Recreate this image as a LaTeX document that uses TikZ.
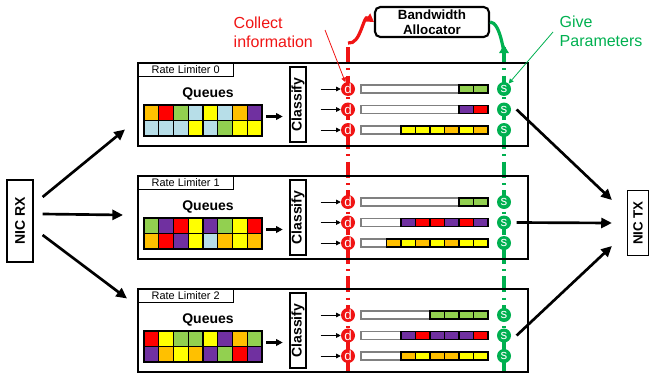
\documentclass[tikz,border=0pt]{standalone}
\usepackage{fontspec}
\setmainfont{Liberation Sans}
\usepackage{graphicx}
\usetikzlibrary{arrows.meta,calc}

\definecolor{qor}{RGB}{255,192,0}
\definecolor{qrd}{RGB}{255,0,0}
\definecolor{qgn}{RGB}{146,208,80}
\definecolor{qbl}{RGB}{183,222,232}
\definecolor{qye}{RGB}{255,255,0}
\definecolor{qpu}{RGB}{112,48,160}
\definecolor{dred}{RGB}{240,20,20}
\definecolor{sgreen}{RGB}{0,176,80}

\tikzset{
  box/.style={draw, line width=0.9pt, inner sep=0pt},
  dnode/.style={circle, fill=dred, text=white, minimum size=10.5pt, inner sep=0pt, font=\fontsize{10}{10}\selectfont},
  snode/.style={dnode, fill=sgreen},
  bigarrow/.style={line width=2pt, -{Triangle[length=8pt,width=7.5pt]}},
  midarrow/.style={line width=1.6pt, -{Triangle[length=5pt,width=5pt]}},
  smallarrow/.style={line width=0.6pt, -{Triangle[length=3.5pt,width=3.5pt]}},
  cell/.style={draw=black, line width=1pt},
  ddash/.style={line width=3pt, dash pattern=on 12pt off 4pt on 1.5pt off 4pt},
}

\begin{document}
\begin{tikzpicture}[x=0.75pt,y=-0.75pt]
  \useasboundingbox (0,0) rectangle (650,375);

  % collector lines behind everything
  \draw[ddash, dred] (348,47) -- (348,372);
  \draw[ddash, sgreen] (504,47) -- (504,372);

  % allocator and labels
  \node[box, rounded corners=4pt, line width=1.6pt, minimum width=85.5pt, minimum height=22.5pt,
        align=center, font=\bfseries\fontsize{10}{11.25}\selectfont] (alloc) at (432,22) {Bandwidth\\Allocator};
  \node[anchor=west, align=left, text=dred, font=\fontsize{12}{14.25}\selectfont] (collect) at (229,32) {Collect\\information};
  \node[anchor=west, align=left, text=sgreen, font=\fontsize{12}{14.25}\selectfont] (give) at (555,31) {Give\\Parameters};

  \coordinate (dtop) at (348,43);
  \coordinate (stop) at (504,45);
  \draw[dred, line width=2.4pt, -{Triangle[length=6pt,width=7pt]}] (dtop) to[out=-10,in=145] (alloc.west);
  \draw[sgreen, line width=2.4pt, -{Triangle[length=6pt,width=7pt]}] (alloc.east) to[out=0,in=-90] (stop);

  % NICs
  \node[box, minimum width=19.5pt, minimum height=61.5pt, font=\bfseries\fontsize{10.5}{10.5}\selectfont] (nicrx) at (20,221) {\rotatebox{90}{NIC RX}};
  \node[box, minimum width=15.75pt, minimum height=48.75pt, font=\bfseries\fontsize{10}{10}\selectfont] (nictx) at (638,223) {\rotatebox{90}{NIC TX}};

  % rate limiters
  \foreach \k/\top/\qa/\qb in {
      0/62/{qor,qrd,qgn,qbl,qye,qbl,qor,qpu}/{qbl,qbl,qbl,qye,qbl,qgn,qye,qye},
      1/175/{qgn,qpu,qrd,qye,qpu,qgn,qye,qrd}/{qor,qrd,qpu,qye,qbl,qor,qye,qor},
      2/288/{qrd,qye,qgn,qgn,qye,qpu,qor,qgn}/{qpu,qor,qye,qor,qpu,qgn,qrd,qpu}}{
    \node[box, line width=1.5pt, anchor=north west, minimum width=292.5pt, minimum height=62.25pt] (rl\k) at (137,\top) {};
    \node[box, line width=1pt, anchor=north west, minimum width=72pt, minimum height=10.5pt,
          font=\fontsize{8.2}{8.2}\selectfont] (tab\k) at (137,\top) {Rate Limiter \k};
    \node[font=\bfseries\fontsize{10.5}{10.5}\selectfont] (ql\k) at (208,\top+32) {Queues};

    \foreach \c [count=\i] in \qa
      \filldraw[cell, fill=\c] ({144+14.75*(\i-1)},\top+43) rectangle ++(14.75,15.5);
    \foreach \c [count=\i] in \qb
      \filldraw[cell, fill=\c] ({144+14.75*(\i-1)},\top+58.5) rectangle ++(14.75,15.5);
    \draw[line width=1.5pt] (144,\top+43) rectangle (262,\top+74);

    \node[box, minimum width=12pt, minimum height=56.25pt, font=\bfseries\fontsize{10.5}{10.5}\selectfont] (cl\k) at (298,\top+42.5) {\rotatebox{90}{Classify}};
    \coordinate (q\k) at (266,\top+54.5);
    \draw[midarrow, shorten >=5pt] (q\k) -- (q\k -| cl\k.west);

    \foreach \r/\dy in {0/27,1/47.5,2/68}{
      \node[draw=gray, line width=0.8pt, fill=white, minimum width=95.25pt, minimum height=6pt,
            inner sep=0pt, outer sep=0pt] (bar\k\r) at (424.5,\top+\dy) {};
      \node[dnode] (d\k\r) at (348,\top+\dy) {d};
      \node[snode] (s\k\r) at (504,\top+\dy) {s};
      \draw[smallarrow] ([xshift=-15pt]d\k\r.west) -- (d\k\r.west);
    }
  }

  % waiting packets, left to right
  \foreach \k/\r/\n/\cells in {
      0/0/2/{qgn,qgn}, 0/1/2/{qpu,qrd}, 0/2/6/{qye,qye,qye,qor,qye,qor},
      1/0/2/{qgn,qgn}, 1/1/6/{qpu,qrd,qrd,qpu,qrd,qpu}, 1/2/7/{qor,qye,qor,qye,qor,qye,qye},
      2/0/4/{qgn,qgn,qgn,qgn}, 2/1/6/{qpu,qrd,qpu,qpu,qpu,qrd}, 2/2/6/{qor,qye,qor,qor,qye,qye}}{
    \foreach \c [count=\i] in \cells
      \filldraw[cell, fill=\c] ($(bar\k\r.north east)+({-14.5*(\n-\i+1)},0)$) rectangle ++(14.5,8);
  }

  % pointers from the labels
  \coordinate (collectend) at (325,30);
  \coordinate (giveend) at (553,32);
  \draw[dred, smallarrow] (collectend) -- (d00);
  \draw[sgreen, smallarrow] (giveend) -- (s00);

  % traffic in and out
  \draw[bigarrow] ([shift={(9,-24)}]nicrx.east) -- ([shift={(-12,25)}]rl0.west);
  \draw[bigarrow] ([shift={(9,-7)}]nicrx.east) -- ([shift={(-14,-2.5)}]rl1.west);
  \draw[bigarrow] ([shift={(9,14)}]nicrx.east) -- ([shift={(-10,-32)}]rl2.west);
  \draw[bigarrow] ([xshift=4pt]s01.east) -- ([shift={(-15,-23)}]nictx.west);
  \draw[bigarrow] ([xshift=4pt]s11.east) -- ([shift={(-15,0)}]nictx.west);
  \draw[bigarrow] ([xshift=4pt]s21.east) -- ([shift={(-15,23)}]nictx.west);
\end{tikzpicture}
\end{document}
